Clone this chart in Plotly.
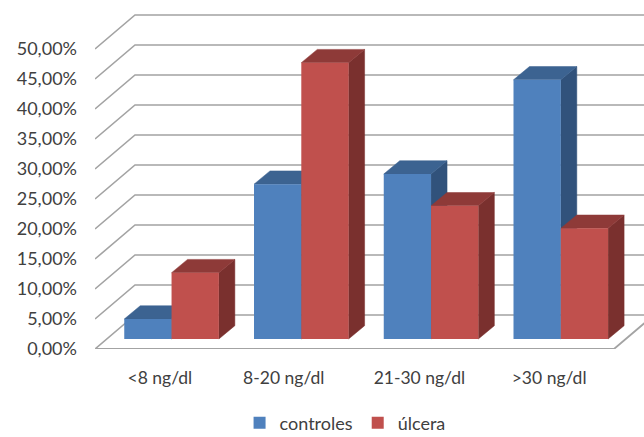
import plotly.graph_objects as go

categories = ["<8 ng/dl", "8-20 ng/dl", "21-30 ng/dl", ">30 ng/dl"]
category_positions = [0.5, 1.455, 2.5, 3.5]
controles = [3.33, 25.8, 27.5, 43.2]
ulcera = [11.05, 46.05, 22.2, 18.45]
y_ticks = [0, 5, 10, 15, 20, 25, 30, 35, 40, 45, 50]
y_labels = ["0,00%", "5,00%", "10,00%", "15,00%", "20,00%", "25,00%",
            "30,00%", "35,00%", "40,00%", "45,00%", "50,00%"]

PX_X = 129.75      # pixels per category
PX_Y = 6.0         # pixels per percent
X_MAX = 549 / PX_X
Y_MAX = 349 / PX_Y
WALL_DX = 40 / PX_X
WALL_DY = 34 / PX_Y
BAR_W = 47.3 / PX_X
BAR_BASE = 10 / PX_Y
BAR_SHIFT = 0.09
DEPTH_DX = 16 / PX_X
DEPTH_DY = 13.3 / PX_Y
GRID = "#A3A3A3"
FONT = "Lato"
TXT = "#404040"

centers = [i + 0.5 + BAR_SHIFT for i in range(len(categories))]


def faces(values, offset):
    sx, sy, tx, ty = [], [], [], []
    for c, v in zip(centers, values):
        x0 = c + offset
        x1 = x0 + BAR_W
        top = BAR_BASE + v
        tx += [x0, x1, x1 + DEPTH_DX, x0 + DEPTH_DX, x0, None]
        ty += [top, top, top + DEPTH_DY, top + DEPTH_DY, top, None]
        sx += [x1, x1, x1 + DEPTH_DX, x1 + DEPTH_DX, x1, None]
        sy += [BAR_BASE, top, top + DEPTH_DY, BAR_BASE + DEPTH_DY, BAR_BASE, None]
    return sx, sy, tx, ty


fig = go.Figure()

# walls: one line per tick, from the front plane up the side wall and along the back
for t in y_ticks:
    fig.add_trace(go.Scatter(
        x=[0, WALL_DX, X_MAX], y=[t, t + WALL_DY, t + WALL_DY], mode="lines",
        line=dict(color=GRID, width=1.6), showlegend=False, hoverinfo="skip"))
# floor front edge
fig.add_trace(go.Scatter(
    x=[0, len(categories), len(categories) + WALL_DX], y=[0, 0, WALL_DY], mode="lines",
    line=dict(color=GRID, width=1.8), showlegend=False, hoverinfo="skip"))


def add_faces(values, offset, side_col, top_col):
    sx, sy, tx, ty = faces(values, offset)
    for fx, fy, col in ((sx, sy, side_col), (tx, ty, top_col)):
        fig.add_trace(go.Scatter(
            x=fx, y=fy, mode="lines", fill="toself", fillcolor=col,
            line=dict(color=col, width=0.5), showlegend=False, hoverinfo="skip"))


add_faces(controles, -BAR_W, "#31527B", "#3C6391")
add_faces(ulcera, 0, "#7A302E", "#8E3A38")

# front faces on an overlaying axis pair so that they sit above the side faces
for name, values, col in (("controles", controles, "#4F81BD"), ("úlcera", ulcera, "#C0504D")):
    fig.add_trace(go.Bar(
        name=name, x=centers, y=values, base=BAR_BASE, marker=dict(color=col, line=dict(width=0)),
        xaxis="x2", yaxis="y2"))

fig.update_layout(
    width=644, height=452, autosize=False,
    margin=dict(l=95, r=0, t=0, b=103),
    paper_bgcolor="white", plot_bgcolor="white",
    barmode="group", bargap=1 - 2 * BAR_W, bargroupgap=0,
    font=dict(family=FONT, color=TXT, size=17),
    xaxis=dict(range=[0, X_MAX], tickmode="array", tickvals=category_positions,
               ticktext=categories, showgrid=False, zeroline=False, showline=False, ticks="",
               ticklabelstandoff=16, tickfont=dict(size=17.5, family=FONT, color=TXT)),
    yaxis=dict(range=[0, Y_MAX], tickmode="array", tickvals=y_ticks, ticktext=y_labels,
               showgrid=False, zeroline=False, showline=False, ticks="",
               ticklabelstandoff=17, tickfont=dict(size=18, family=FONT, color=TXT)),
    xaxis2=dict(range=[0, X_MAX], overlaying="x", visible=False),
    yaxis2=dict(range=[0, Y_MAX], overlaying="y", visible=False),
    legend=dict(orientation="h", xref="container", yref="container",
                x=0.372, xanchor="left", y=0.064, yanchor="middle",
                font=dict(size=18, family=FONT, color=TXT), bgcolor="rgba(0,0,0,0)",
                itemsizing="constant"),
)

fig.write_html("out.html", config={"displayModeBar": False},
               post_script="document.body.style.margin='0';document.body.style.overflow='hidden';")
